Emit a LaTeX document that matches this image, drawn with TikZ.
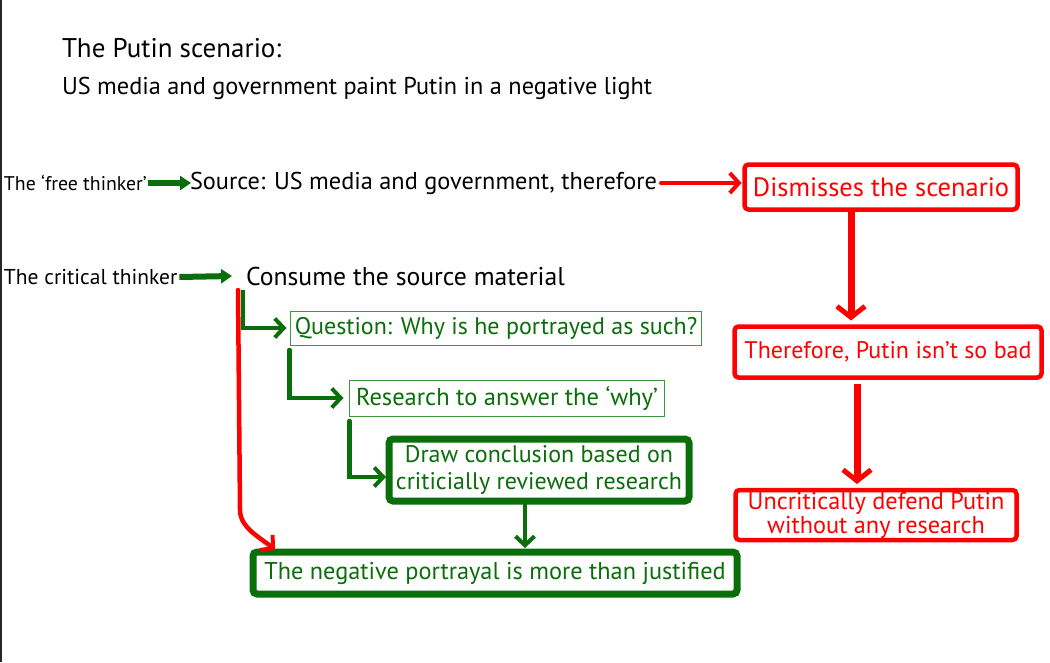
\documentclass[tikz,border=0pt]{standalone}
\usepackage{fontspec}
\setmainfont{PT Sans}
\usetikzlibrary{arrows.meta,calc}
\definecolor{gdark}{RGB}{10,110,10}
\definecolor{gline}{RGB}{60,150,60}
\definecolor{rr}{RGB}{255,0,0}
\tikzset{
  every node/.style={inner sep=0pt, outer sep=0pt},
  plain/.style={font=\fontsize{24.3}{26}\selectfont, anchor=west},
  small/.style={font=\fontsize{19.8}{21}\selectfont, anchor=west},
  redbox/.style={draw=rr, line width=4.5pt, rounded corners=4pt, text=rr, font=\fontsize{24}{25}\selectfont, align=center},
  thinbox/.style={draw=gline, line width=0.9pt, text=gdark, font=\fontsize{24}{26}\selectfont},
  thickbox/.style={draw=gdark, line width=7pt, rounded corners=4pt, text=gdark, font=\fontsize{24}{27}\selectfont, align=center},
  fatarrow/.style={draw=gdark, line width=6pt, -{Triangle[length=11pt,width=14pt]}},
  rarrow/.style={draw=rr, line width=4pt, -{Straight Barb[length=9pt,width=20pt,line width=4pt]}, line cap=round},
  rbig/.style={draw=rr, line width=7pt, -{Straight Barb[length=11pt,width=28pt,line width=5pt]}},
  garrow/.style={draw=gdark, line width=4.5pt, -{Straight Barb[length=9pt,width=19pt,line width=4pt]}, line cap=round},
}
\begin{document}
\begin{tikzpicture}[x=1pt,y=-1pt]
\useasboundingbox (0,0) rectangle (1050,662);
\fill[white] (0,0) rectangle (1050,662);
\draw[black!85, line width=1.5pt] (0.75,0) -- (0.75,662);

\node[anchor=west, font=\fontsize{27}{29}\selectfont] (title) at (62,48) {The Putin scenario:};
\node[anchor=west, font=\fontsize{24.3}{26}\selectfont] (sub) at (62,88) {US media and government paint Putin in a negative light};

\node[small, font=\fontsize{19.8}{21}\selectfont] (ft) at (4,183) {The ‘free thinker’};
\node[plain] (src) at (190,183) {Source: US media and government, therefore};
\node[redbox, minimum width=273pt, minimum height=45pt, font=\fontsize{26.5}{28}\selectfont] (dis) at (881,187) {Dismisses the scenario};
\node[redbox, minimum width=307pt, minimum height=51pt] (ther) at (888,352) {Therefore, Putin isn’t so bad};
\node[redbox, minimum width=281pt, minimum height=50pt, font=\fontsize{24.3}{24}\selectfont] (unc) at (876,515) {Uncritically defend Putin\\without any research};

\node[small, font=\fontsize{21.5}{23}\selectfont] (ct) at (4,277) {The critical thinker};
\node[anchor=west, font=\fontsize{25.7}{27}\selectfont] (cons) at (246,276) {Consume the source material};

\node[thinbox, minimum width=411pt, minimum height=34pt] (q) at (496,328) {Question: Why is he portrayed as such?};
\node[thinbox, minimum width=315pt, minimum height=36pt, font=\fontsize{24.5}{26}\selectfont] (r) at (507,398) {Research to answer the ‘why’};
\node[thickbox, minimum width=300pt, minimum height=62pt] (dc) at (539,470) {Draw conclusion based on\\criticially reviewed research};
\node[thickbox, minimum width=484pt, minimum height=42pt, font=\fontsize{24.3}{26}\selectfont] (fin) at (495,573) {The negative portrayal is more than justified};

\draw[fatarrow] ([xshift=1pt]ft.east) -- ([xshift=1pt]src.west);
\draw[fatarrow] ([xshift=2pt]ct.east) -- ([xshift=-14pt]cons.west);
\draw[rarrow] ([xshift=4pt]src.east) -- ([xshift=-3pt]src.east -| dis.west);
\draw[rbig] ([xshift=-30pt,yshift=-2pt]dis.south) -- ([xshift=-30pt,yshift=6pt]dis.south |- ther.north);
\draw[rbig] ([xshift=-31pt,yshift=-6pt]ther.south) -- ([xshift=-31pt,yshift=6pt]ther.south |- unc.north);

\draw[rarrow, line width=4.5pt] ([xshift=-8pt,yshift=-14pt]cons.west) -- ++(2,220) .. controls +(0,18) and +(-14,-12) .. ([xshift=22pt,yshift=2pt]fin.north west);
\draw[garrow, line cap=butt] ([xshift=-3pt,yshift=-14pt]cons.west) |- ([xshift=-4pt]q.west);
\draw[garrow] ([xshift=-1pt,yshift=-5pt]q.south west) |- ([xshift=-6pt]r.west);
\draw[garrow] ([xshift=0pt,yshift=-5pt]r.south west) |- ([xshift=-3pt,yshift=-7pt]dc.west);
\draw[garrow] ([xshift=-14pt,yshift=-4pt]dc.south) -- ([xshift=-14pt,yshift=4pt]dc.south |- fin.north);
\end{tikzpicture}
\end{document}
